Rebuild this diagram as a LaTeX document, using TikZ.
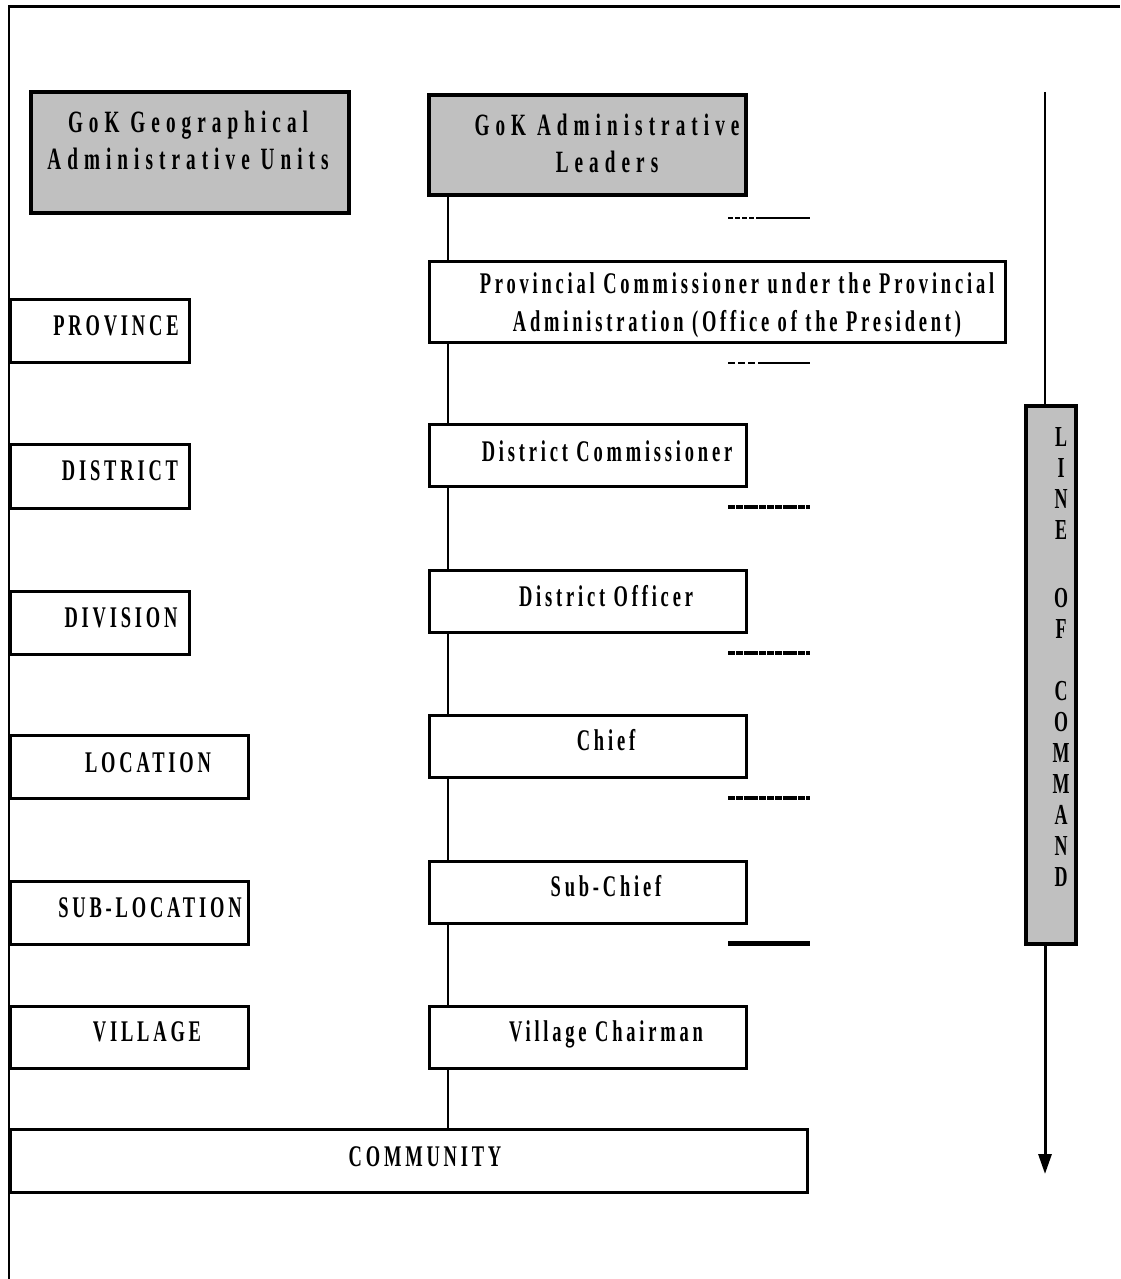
\documentclass[tikz,border=0pt]{standalone}
\usepackage{fontspec}
\newfontfamily\labfont[FakeStretch=0.616,LetterSpace=12.7]{Liberation Serif}
\newfontfamily\hdrfont[FakeStretch=0.62,LetterSpace=19.5]{Liberation Serif}
\newfontfamily\vfont[FakeStretch=0.62]{Liberation Serif}
\usetikzlibrary{arrows.meta}
\definecolor{hdrgray}{HTML}{C0C0C0}
\begin{document}
\begin{tikzpicture}[x=1pt,y=-1pt,
  bx/.style={draw, line width=3pt, inner sep=0pt, fill=white},
  hdr/.style={draw, line width=4pt, fill=hdrgray, inner sep=0pt},
  lbl/.style={font=\labfont\bfseries\fontsize{30}{38}\selectfont, inner sep=0pt, anchor=base, align=center},
  hlbl/.style={font=\hdrfont\bfseries\fontsize{31}{37}\selectfont, inner sep=0pt, anchor=base, align=center},
  vlbl/.style={font=\vfont\bfseries\fontsize{29}{31}\selectfont, inner sep=0pt, anchor=base, align=center},
  conn/.style={line width=2pt},
  tick/.style={line width=2.5pt},
  densetick/.style={line width=4pt, dash pattern=on 7pt off 0.8pt}]
\useasboundingbox (0,0) rectangle (1120,1279);
% frame
\draw[line width=2pt] (9,1279) -- (9,7);
\draw[line width=3pt] (8,7) -- (1120,7);
% headers
\node[hdr, minimum width=318pt, minimum height=121pt] (geo) at (190,152.5) {};
\node[hlbl] (geoT) at (188,169) {GoK Geographical\\Administrative Units};
\node[hdr, line width=4.5pt, minimum width=317pt, minimum height=100pt] (adm) at (587.5,145) {};
\node[hlbl] (admT) at (607,172) {GoK Administrative\\Leaders};
% left column
\node[bx, minimum width=179pt, minimum height=63pt] (prov) at (100,331) {};
\node[lbl] (provT) at (116,335) {PROVINCE};
\node[bx, minimum width=179pt, minimum height=64pt] (dist) at (100,476.5) {};
\node[lbl] (distT) at (120,480) {DISTRICT};
\node[bx, minimum width=179pt, minimum height=63pt] (divi) at (100,623) {};
\node[lbl] (diviT) at (121,627) {DIVISION};
\node[bx, minimum width=238pt, minimum height=63pt] (loca) at (129.5,767) {};
\node[lbl] (locaT) at (148,772) {LOCATION};
\node[bx, minimum width=238pt, minimum height=63pt] (subl) at (129.5,913) {};
\node[lbl] (sublT) at (150,917) {SUB-LOCATION};
\node[bx, minimum width=238pt, minimum height=62pt] (vill) at (129.5,1037.5) {};
\node[lbl] (villT) at (147,1041) {VILLAGE};
\node[bx, minimum width=797pt, minimum height=63pt] (comm) at (409,1161) {};
\node[lbl] (commT) at (425,1166) {COMMUNITY};
% middle column
\node[bx, minimum width=576pt, minimum height=81pt] (pc) at (717,301.5) {};
\node[lbl] (pcT) at (737,331) {Provincial Commissioner under the Provincial\\Administration (Office of the President)};
\node[bx, minimum width=317pt, minimum height=62pt] (dc) at (587.5,455.5) {};
\node[lbl] (dcT) at (607,461) {District Commissioner};
\node[bx, minimum width=317pt, minimum height=62pt] (do) at (587.5,601.5) {};
\node[lbl] (doT) at (606,606) {District Officer};
\node[bx, minimum width=317pt, minimum height=62pt] (chief) at (587.5,746.5) {};
\node[lbl] (chiefT) at (606,750) {Chief};
\node[bx, minimum width=317pt, minimum height=62pt] (subc) at (587.5,892.5) {};
\node[lbl] (subcT) at (606,896) {Sub-Chief};
\node[bx, minimum width=317pt, minimum height=62pt] (vc) at (587.5,1037.5) {};
\node[lbl] (vcT) at (606,1041) {Village Chairman};
% spine connectors
\coordinate (spine) at (448,0);
\draw[conn] (adm.south -| spine) -- (pc.north -| spine);
\draw[conn] (pc.south -| spine) -- (dc.north -| spine);
\draw[conn] (dc.south -| spine) -- (do.north -| spine);
\draw[conn] (do.south -| spine) -- (chief.north -| spine);
\draw[conn] (chief.south -| spine) -- (subc.north -| spine);
\draw[conn] (subc.south -| spine) -- (vc.north -| spine);
\draw[conn] (vc.south -| spine) -- (comm.north -| spine);
% tick marks
\draw[tick, dash pattern=on 5pt off 2pt] (728,218) -- (757,218);
\draw[tick] (757,218) -- (810,218);
\draw[tick, dash pattern=on 7pt off 3pt] (728,363) -- (759,363);
\draw[tick] (759,363) -- (810,363);
\draw[densetick] (728,507) -- (810,507);
\draw[densetick] (728,653) -- (810,653);
\draw[densetick] (728,798) -- (810,798);
\draw[line width=5pt] (728,943) -- (810,943);
% line of command
\node[hdr, line width=3.5pt, minimum width=50pt, minimum height=538pt] (cmd) at (1051,675) {};
\node[vlbl] (cmdT) at (1061,886) {L\\I\\N\\E\\[37pt]O\\F\\[31pt]C\\O\\M\\M\\A\\N\\D};
\coordinate (cmdtop) at (1045,92);
\coordinate (cmdend) at (1045,1174);
\draw[conn] (cmdtop) -- (cmdtop |- cmd.north);
\draw[line width=3pt, -{Triangle[length=20pt,width=13pt]}] (cmdtop |- cmd.south) -- (cmdend);
\end{tikzpicture}
\end{document}
